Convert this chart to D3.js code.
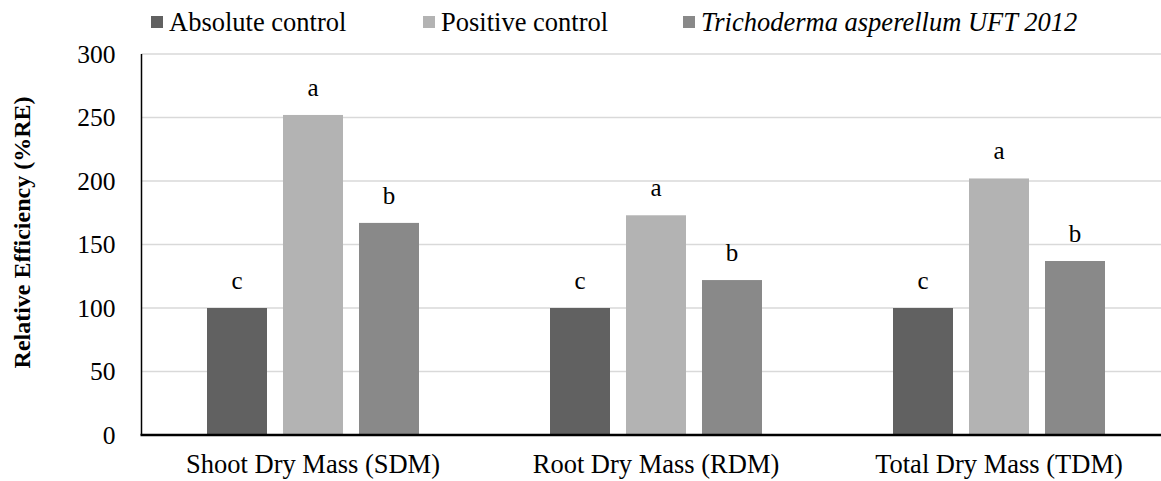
<!DOCTYPE html>
<html>
<head>
<meta charset="utf-8">
<script src="https://cdn.jsdelivr.net/npm/d3@7/dist/d3.min.js"></script>
<style>
  html, body { margin: 0; padding: 0; background: #fff; }
  svg { display: block; }
  svg text { font-family: 'Liberation Serif', 'Times New Roman', serif !important; fill: #000; }
</style>
</head>
<body>
<svg id="chart" width="1161" height="481"></svg>
<script>
const categories = ["Shoot Dry Mass (SDM)", "Root Dry Mass (RDM)", "Total Dry Mass (TDM)"];
const seriesNames = ["Absolute control", "Positive control", "Trichoderma asperellum UFT 2012"];
const absoluteControl = [100, 100, 100];
const positiveControl = [252, 173, 202];
const trichoderma = [167, 122, 137];
const absoluteLetters = ["c", "c", "c"];
const positiveLetters = ["a", "a", "a"];
const trichodermaLetters = ["b", "b", "b"];
const yTicks = [0, 50, 100, 150, 200, 250, 300];

(function () {
const seriesValues = [absoluteControl, positiveControl, trichoderma];
const seriesLetters = [absoluteLetters, positiveLetters, trichodermaLetters];
const colors = ["#616161", "#b3b3b3", "#898989"];

const svg = d3.select("#chart");
const W = 1161;
const mLeft = 141.5, mTop = 54, mBottom = 435;

const y = d3.scaleLinear().domain([0, 300]).range([mBottom, mTop]);
const x0 = d3.scaleBand().domain(categories).range([mLeft, mLeft + 3 * 343]).padding(0);
const x1 = d3.scaleBand().domain(seriesNames).range([65.5, 277.5]).paddingInner(0.2105).paddingOuter(0);

// gridlines
svg.append("g").selectAll("line").data(yTicks.filter(d => d > 0)).join("line")
  .attr("x1", mLeft).attr("x2", W)
  .attr("y1", d => y(d)).attr("y2", d => y(d))
  .attr("stroke", "#d9d9d9").attr("stroke-width", 1.5);

// y axis
const yAxis = d3.axisLeft(y).tickValues(yTicks).tickSize(0).tickPadding(26);
const gy = svg.append("g").attr("transform", `translate(${mLeft},0)`).call(yAxis);
gy.select(".domain").remove();
gy.selectAll("text").style("font-size", "25.5px").attr("fill", "#000");

// bars
const data = [];
categories.forEach((c, i) => {
  seriesNames.forEach((s, j) => {
    data.push({ cat: c, series: s, value: seriesValues[j][i], letter: seriesLetters[j][i], color: colors[j] });
  });
});

const bars = svg.append("g");
bars.selectAll("rect").data(data).join("rect")
  .attr("x", d => x0(d.cat) + x1(d.series))
  .attr("y", d => y(d.value))
  .attr("width", x1.bandwidth())
  .attr("height", d => y(0) - y(d.value))
  .attr("fill", d => d.color);

bars.selectAll("text").data(data).join("text")
  .attr("x", d => x0(d.cat) + x1(d.series) + x1.bandwidth() / 2)
  .attr("y", d => y(d.value) - 19)
  .attr("text-anchor", "middle")
  .style("font-size", "25px")
  .text(d => d.letter);

// axis lines
svg.append("line").attr("x1", mLeft).attr("x2", mLeft).attr("y1", mTop).attr("y2", mBottom)
  .attr("stroke", "#000").attr("stroke-width", 1.5);
svg.append("line").attr("x1", mLeft - 1).attr("x2", W).attr("y1", mBottom).attr("y2", mBottom)
  .attr("stroke", "#000").attr("stroke-width", 2.5);

// x labels
const xAxis = d3.axisBottom(x0).tickSize(0).tickPadding(19);
const gx = svg.append("g").attr("transform", `translate(0,${mBottom})`).call(xAxis);
gx.select(".domain").remove();
gx.selectAll("text").style("font-size", "26.5px").attr("fill", "#000");

// y title
svg.append("text")
  .attr("transform", `translate(30,${(mTop + mBottom) / 2 - 12}) rotate(-90)`)
  .attr("text-anchor", "middle")
  .style("font-size", "24px").style("font-weight", "bold")
  .text("Relative Efficiency (%RE)");

// legend
const legendX = [151, 423, 683];
const lg = svg.append("g");
seriesNames.forEach((s, j) => {
  const g = lg.append("g").attr("transform", `translate(${legendX[j]},22)`);
  g.append("rect").attr("x", 0).attr("y", -6).attr("width", 12).attr("height", 12).attr("fill", colors[j]);
  g.append("text").attr("x", 18).attr("y", 9)
    .style("font-size", "26.5px")
    .style("font-style", j === 2 ? "italic" : "normal")
    .text(s);
});
})();
</script>
</body>
</html>
